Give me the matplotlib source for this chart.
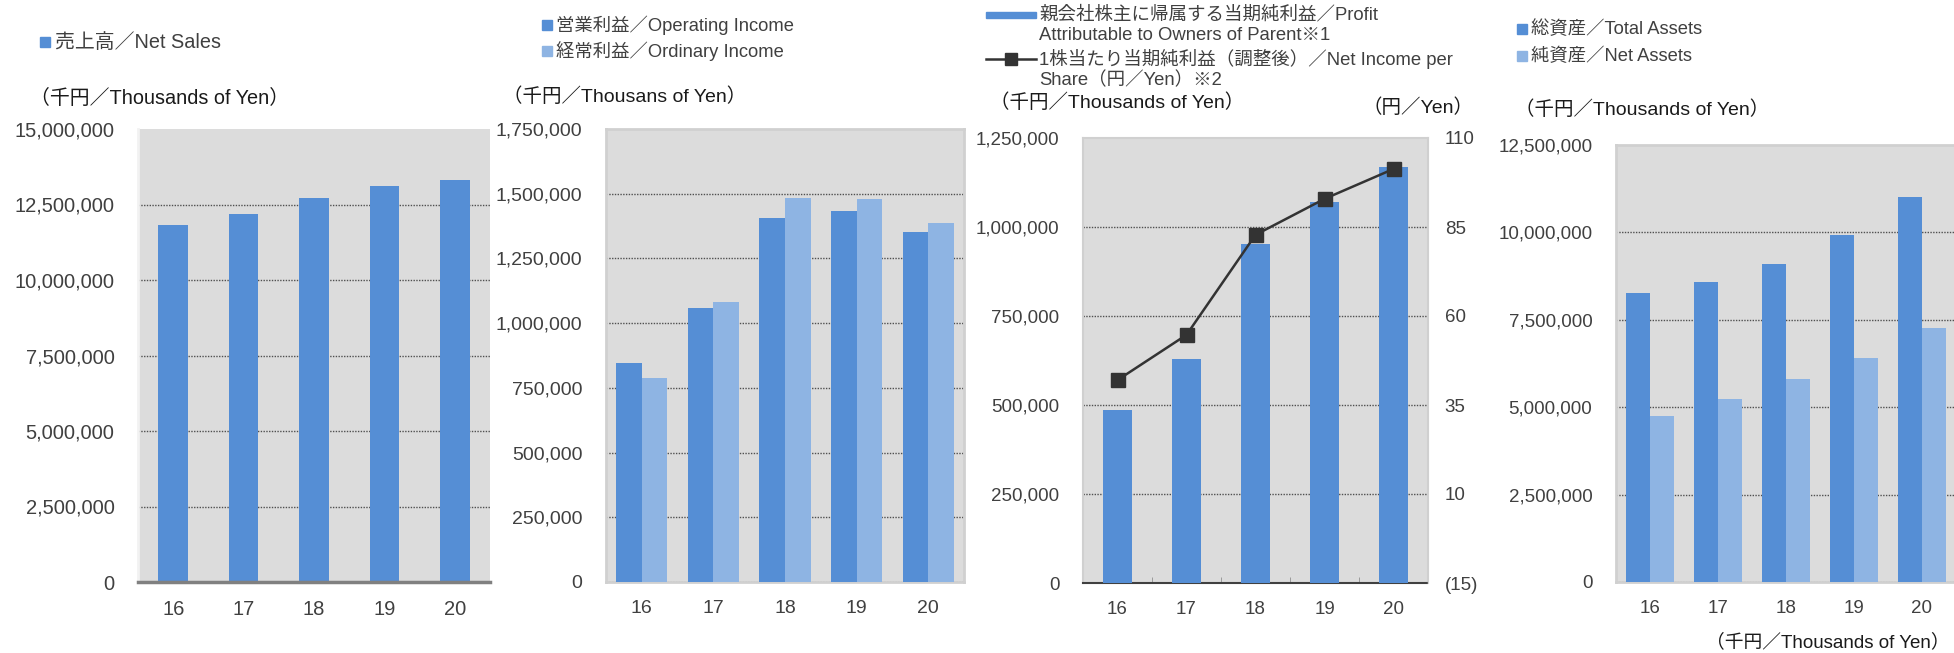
"""Four-panel financial highlights chart (FY16-FY20)."""

import matplotlib
matplotlib.use("Agg")
import matplotlib.pyplot as plt
from matplotlib.patches import Rectangle
from matplotlib.lines import Line2D
from matplotlib.ticker import FuncFormatter

W, H = 1954, 653
plt.rcParams["font.family"] = ["Liberation Sans", "Noto Sans CJK JP", "DejaVu Sans"]

DARK, LIGHT = "#558ED5", "#8EB4E3"
BG = "#DCDCDC"
TXT = "#404040"

years = ["16", "17", "18", "19", "20"]
net_sales = [11820000, 12190000, 12730000, 13110000, 13310000]
operating_income = [845000, 1058000, 1405000, 1435000, 1352000]
ordinary_income = [790000, 1080000, 1485000, 1480000, 1385000]
profit_parent = [486000, 630000, 952000, 1070000, 1168000]
eps = [42.0, 54.7, 82.8, 92.9, 101.3]
total_assets = [8270000, 8580000, 9100000, 9930000, 11010000]
net_assets = [4750000, 5230000, 5810000, 6410000, 7270000]


def box(x0, y0, x1, y1):
    return [x0 / W, 1 - y1 / H, (x1 - x0) / W, (y1 - y0) / H]


def fx(x):
    return x / W


def fy(y):
    return 1 - y / H


def comma(v, _):
    return f"{v:,.0f}"


def paren(v, _):
    return f"({-v:,.0f})" if v < 0 else f"{v:,.0f}"


def style(ax, top, step, fs=14, pad=17):
    ax.set_facecolor(BG)
    ax.set_xlim(-0.5, 4.5)
    ax.set_ylim(0, top)
    ax.set_yticks([step * k for k in range(int(round(top / step)) + 1)])
    ax.yaxis.set_major_formatter(FuncFormatter(comma))
    ax.set_xticks(range(5))
    ax.set_xticklabels(years)
    ax.tick_params(axis="both", length=0, labelsize=fs, colors=TXT)
    ax.tick_params(axis="y", pad=pad)
    ax.tick_params(axis="x", pad=13)
    ax.grid(axis="y", color="#505050", linestyle=(0, (1, 1)), linewidth=1.0)
    ax.get_ygridlines()[-1].set_visible(False)
    ax.set_axisbelow(True)
    for s in ax.spines.values():
        s.set_color("#D0D0D0")
        s.set_linewidth(2)


def square(fig, x, y, c, s=10):
    fig.add_artist(Rectangle((fx(x), fy(y + s / 2)), s / W, s / H, color=c,
                             transform=fig.transFigure))


fig = plt.figure(figsize=(W / 100, H / 100), dpi=100)

# panel 1: net sales
ax1 = fig.add_axes(box(138, 129, 490, 582))
style(ax1, 15000000, 2500000, fs=14.5, pad=17)
ax1.bar(range(5), net_sales, width=0.42, color=DARK, zorder=3)
ax1.spines["top"].set_visible(False)
ax1.spines["right"].set_visible(False)
ax1.spines["left"].set_color("#F2F2F2")
ax1.spines["bottom"].set_color("#808080")
ax1.spines["bottom"].set_linewidth(2.5)
ax1.spines["bottom"].set_zorder(4)
square(fig, 40, 42, DARK)
fig.text(fx(55), fy(42), "売上高／Net Sales", fontsize=14.3, color=TXT, va="center")
fig.text(fx(30), fy(98), "（千円／Thousands of Yen）", fontsize=14.3, color="#1A1A1A", va="center")

# panel 2: operating / ordinary income
ax2 = fig.add_axes(box(606, 129, 964, 582))
style(ax2, 1750000, 250000, fs=14, pad=17)
bw = 0.357
ax2.bar([i - bw / 2 for i in range(5)], operating_income, width=bw, color=DARK, zorder=3)
ax2.bar([i + bw / 2 for i in range(5)], ordinary_income, width=bw, color=LIGHT, zorder=3)
square(fig, 542, 25, DARK)
square(fig, 542, 51, LIGHT)
fig.text(fx(556), fy(25), "営業利益／Operating Income", fontsize=13.2, color=TXT, va="center")
fig.text(fx(556), fy(51), "経常利益／Ordinary Income", fontsize=13.2, color=TXT, va="center")
fig.text(fx(503), fy(97), "（千円／Thousans of Yen）", fontsize=14, color="#1A1A1A", va="center")

# panel 3: profit attributable to owners + EPS
ax3 = fig.add_axes(box(1083, 138, 1428, 583))
style(ax3, 1250000, 250000, fs=13.5, pad=17)
ax3.bar(range(5), profit_parent, width=0.42, color=DARK, zorder=3)
for s in ax3.spines.values():
    s.set_linewidth(1.5)
ax3.spines["bottom"].set_color("#404040")
ax3.spines["bottom"].set_linestyle((0, (1, 1)))
ax3.set_xticks([0.5, 1.5, 2.5, 3.5], minor=True)
ax3.tick_params(axis="x", which="minor", direction="in", length=4, color="#909090")
ax3r = ax3.twinx()
ax3r.set_ylim(-15, 110)
ax3r.set_yticks([-15, 10, 35, 60, 85, 110])
ax3r.yaxis.set_major_formatter(FuncFormatter(paren))
ax3r.tick_params(axis="y", length=0, labelsize=13.5, colors=TXT, pad=12)
for s in ax3r.spines.values():
    s.set_visible(False)
ax3r.plot(range(5), eps, color="#333333", lw=1.8, marker="s", ms=9.5, zorder=5)
fig.add_artist(Rectangle((fx(986), fy(18)), 50 / W, 6 / H, color=DARK,
                         transform=fig.transFigure))
fig.add_artist(Line2D([fx(986), fx(1036)], [fy(59), fy(59)], color="#333333", lw=1.8,
                      transform=fig.transFigure))
fig.add_artist(Line2D([fx(1011)], [fy(59)], color="#333333", marker="s", ms=9,
                      transform=fig.transFigure))
leg3 = ["親会社株主に帰属する当期純利益／Profit",
        "Attributable to Owners of Parent※1",
        "1株当たり当期純利益（調整後）／Net Income per",
        "Share（円／Yen）※2"]
for t, yy in zip(leg3, [15, 36, 59, 80]):
    fig.text(fx(1039), fy(yy), t, fontsize=13.3, color=TXT, va="center")
fig.text(fx(990), fy(103), "（千円／Thousands of Yen）", fontsize=14, color="#1A1A1A", va="center")
fig.text(fx(1474), fy(108), "（円／Yen）", fontsize=14, color="#1A1A1A", va="center", ha="right")

# panel 4: total / net assets
ax4 = fig.add_axes(box(1616, 145, 1956, 582))
style(ax4, 12500000, 2500000, fs=13.5, pad=17)
bw = 0.35
ax4.bar([i - bw / 2 for i in range(5)], total_assets, width=bw, color=DARK, zorder=3)
ax4.bar([i + bw / 2 for i in range(5)], net_assets, width=bw, color=LIGHT, zorder=3)
square(fig, 1517, 29, DARK)
square(fig, 1517, 56, LIGHT)
fig.text(fx(1531), fy(29), "総資産／Total Assets", fontsize=13.2, color=TXT, va="center")
fig.text(fx(1531), fy(56), "純資産／Net Assets", fontsize=13.2, color=TXT, va="center")
fig.text(fx(1515), fy(110), "（千円／Thousands of Yen）", fontsize=14, color="#1A1A1A", va="center")
fig.text(fx(1950), fy(651), "（千円／Thousands of Yen）", fontsize=13.5, color="#1A1A1A",
         va="bottom", ha="right")

fig.savefig("out.png", dpi=100)
